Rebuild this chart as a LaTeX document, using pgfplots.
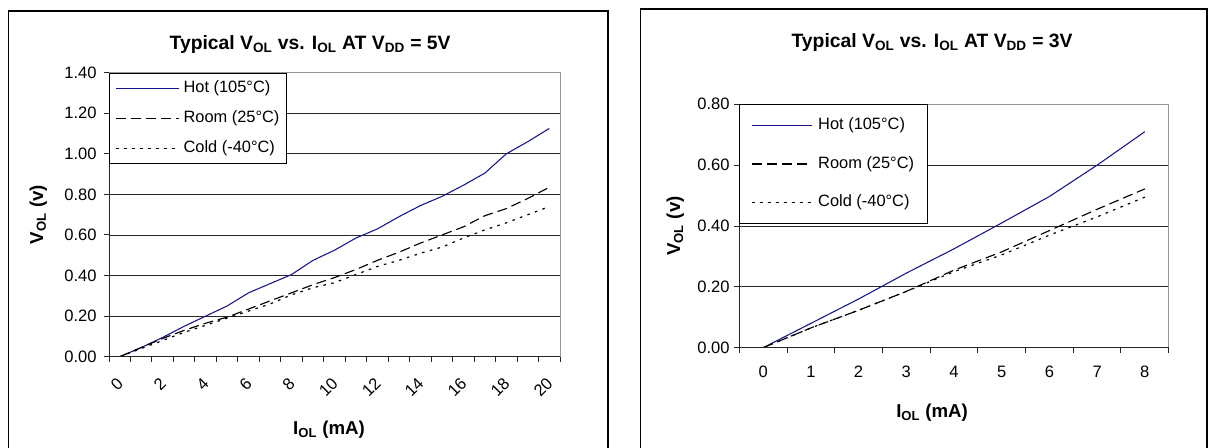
\documentclass[border=0pt]{standalone}
\usepackage{fontspec}
\setmainfont{Liberation Sans}
\usepackage{pgfplots}
\pgfplotsset{compat=1.18}

\definecolor{hotblue}{RGB}{20,20,140}
\definecolor{gridc}{RGB}{40,40,40}
\definecolor{framec}{RGB}{150,150,150}

% 1 px of the reference = 0.75pt
\pgfplotsset{
  volt/.style={
    scale only axis,
    anchor=south west,
    axis line style={framec, line width=0.75pt},
    tick style={black!85, line width=0.75pt},
    tick align=outside,
    xtick pos=bottom, ytick pos=left,
    ymajorgrids,
    major grid style={gridc, line width=0.7pt},
    major tick length=3.75pt,
    xticklabels={},
    extra x tick style={tick style={draw=none}},
    ticklabel style={font=\fontsize{12.4}{14}\selectfont},
    /pgf/number format/assume math mode=true,
    yticklabel style={/pgf/number format/.cd, fixed, fixed zerofill, precision=2},
    yticklabel shift=2pt,
    label style={font=\bfseries\fontsize{14}{16}\selectfont},
    ylabel style={anchor=center},
    xlabel style={anchor=center},
    title style={font=\bfseries\fontsize{14.5}{17}\selectfont, anchor=center},
    legend cell align=left,
    legend style={at={(0,1)}, anchor=north west, draw=black, line width=0.6pt,
      fill=white, font=\fontsize{12.3}{14}\selectfont,
      nodes={inner sep=1pt, text height=8.5pt, text depth=2.5pt}},
    after end axis/.code={\draw[black!85, line width=0.75pt]
      (rel axis cs:0,1) -- (rel axis cs:0,0) -- (rel axis cs:1,0);},
  },
  hot/.style={hotblue, line width=0.8pt},
  room/.style={black, line width=0.85pt, dash pattern=on 7.5pt off 3.75pt},
  cold/.style={black, line width=0.9pt, dash pattern=on 1.9pt off 4.1pt},
}

\begin{document}
\begin{tikzpicture}
\path[use as bounding box] (0,0) rectangle (908.25pt,335.25pt);
% chart frames
\draw[black, line width=0.9pt] (6.225pt,-1pt) -- (6.225pt,327pt) -- (456pt,327pt) -- (456pt,-1pt);
\draw[black, line width=0.9pt] (480.5pt,-1pt) -- (480.5pt,328.5pt) -- (905.25pt,328.5pt) -- (905.25pt,-1pt);

% V_DD = 5V
\begin{axis}[volt,
  at={(81.75pt,67.725pt)}, width=338.25pt, height=213pt,
  xmin=-0.5, xmax=20.5, ymin=0, ymax=1.4,
  xtick={-0.5,0.5,...,20.5},
  extra x ticks={0,2,4,6,8,10,12,14,16,18,20},
  extra x tick labels={0,2,4,6,8,10,12,14,16,18,20},
  extra x tick style={xticklabel style={rotate=45, anchor=north east, inner sep=0pt, xshift=-4pt}},
  xticklabel shift=8pt,
  ytick={0,0.2,0.4,0.6,0.8,1.0,1.2,1.4},
  title={Typical V\textsubscript{OL} vs. I\textsubscript{OL} AT V\textsubscript{DD} = 5V},
  title style={at={(axis description cs:0.446,1.07)}},
  xlabel={I\textsubscript{OL} (mA)},
  xlabel style={at={(axis description cs:0.488,-0.258)}},
  ylabel={V\textsubscript{OL} (v)},
  ylabel style={at={(axis description cs:-0.157,0.5)}},
  legend style={inner xsep=4.5pt, inner ysep=5pt, row sep=9.5pt,
    /tikz/every odd column/.append style={column sep=2pt}},
  legend image code/.code={\draw[#1] (0pt,0pt) -- (47.25pt,0pt);},
]
\addplot[hot] coordinates {
  (0,0) (1,0.045) (2,0.095) (3,0.15) (4,0.20) (5,0.25) (6,0.315) (7,0.36)
  (8,0.405) (9,0.475) (10,0.525) (11,0.585) (12,0.63) (13,0.69) (14,0.745)
  (15,0.79) (16,0.845) (17,0.905) (18,1.00) (19,1.06) (20,1.125)};
\addlegendentry{Hot (105°C)}
\addplot[room] coordinates {
  (0,0) (1,0.045) (2,0.09) (3,0.13) (4,0.165) (5,0.195) (6,0.235) (7,0.275)
  (8,0.315) (9,0.355) (10,0.39) (11,0.43) (12,0.475) (13,0.515) (14,0.56)
  (15,0.60) (16,0.64) (17,0.695) (18,0.73) (19,0.78) (20,0.835)};
\addlegendentry{Room (25°C)}
\addplot[cold] coordinates {
  (0,0) (1,0.04) (2,0.08) (3,0.12) (4,0.155) (5,0.19) (6,0.225) (7,0.26)
  (8,0.305) (9,0.34) (10,0.365) (11,0.405) (12,0.445) (13,0.475) (14,0.51)
  (15,0.54) (16,0.585) (17,0.625) (18,0.66) (19,0.70) (20,0.74)};
\addlegendentry{Cold (-40°C)}
\end{axis}

% V_DD = 3V
\begin{axis}[volt,
  at={(554.475pt,74.475pt)}, width=322.05pt, height=182.55pt,
  xmin=-0.5, xmax=8.5, ymin=0, ymax=0.8,
  xtick={-0.5,0.5,...,8.5},
  extra x ticks={0,1,2,3,4,5,6,7,8},
  extra x tick labels={0,1,2,3,4,5,6,7,8},
  xticklabel shift=6.5pt,
  ytick={0,0.2,0.4,0.6,0.8},
  yticklabel shift=0pt,
  title={Typical V\textsubscript{OL} vs. I\textsubscript{OL} AT V\textsubscript{DD} = 3V},
  title style={at={(axis description cs:0.449,1.222)}},
  xlabel={I\textsubscript{OL} (mA)},
  xlabel style={at={(axis description cs:0.449,-0.268)}},
  ylabel={V\textsubscript{OL} (v)},
  ylabel style={at={(axis description cs:-0.149,0.5)}},
  legend style={inner xsep=9pt, inner ysep=9pt, row sep=16pt,
    /tikz/every odd column/.append style={column sep=3pt}},
  legend image code/.code={\draw[#1] (0pt,0pt) -- (45pt,0pt);},
]
\addplot[hot] coordinates {
  (0,0) (1,0.08) (2,0.16) (3,0.245) (4,0.325) (5,0.41) (6,0.497) (7,0.60) (8,0.71)};
\addlegendentry{Hot (105°C)}
\addplot[room] coordinates {
  (0,0) (1,0.065) (2,0.123) (3,0.185) (4,0.255) (5,0.315) (6,0.385) (7,0.455) (8,0.522)};
\addlegendentry{Room (25°C)}
\addplot[cold] coordinates {
  (0,0) (1,0.065) (2,0.123) (3,0.185) (4,0.25) (5,0.305) (6,0.37) (7,0.43) (8,0.495)};
\addlegendentry{Cold (-40°C)}
\end{axis}
\end{tikzpicture}
\end{document}
